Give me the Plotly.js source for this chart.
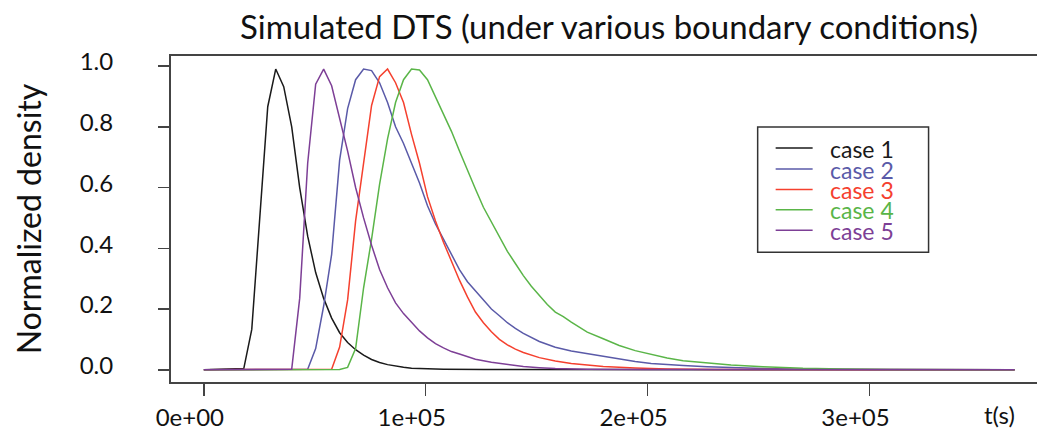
<!DOCTYPE html>
<html>
<head>
<meta charset="utf-8">
<script src="https://cdn.plot.ly/plotly-3.0.1.min.js"></script>
<style>
html, body { margin: 0; padding: 0; background: #fff; overflow: hidden; }
#chart { width: 1060px; height: 440px; }
</style>
</head>
<body>
<div id="chart"></div>
<script>
// ---------------- data (time in seconds, normalized density) ----------------
const caseNames = ["case 1", "case 2", "case 3", "case 4", "case 5"];
const caseColors = ["#1a1a1a", "#5a5aa8", "#f5402e", "#5ab548", "#7d3f96"];

const t1 = [0, 18000, 21600, 25200, 28800, 32400, 36000, 39600, 43200, 46800, 50400, 54000, 57600, 61200, 64800, 68400, 72000, 75600, 79200, 82800, 86400, 90000, 93600, 100800, 108000, 126000, 162000, 190000, 365400];
const y1 = [0, 0.004, 0.133, 0.50, 0.866, 0.99, 0.932, 0.80, 0.60, 0.44, 0.32, 0.235, 0.17, 0.122, 0.09, 0.066, 0.048, 0.034, 0.024, 0.017, 0.012, 0.008, 0.005, 0.003, 0.002, 0.001, 0.001, 0, 0];

const t2 = [0, 46800, 50400, 54000, 57600, 61200, 64800, 68400, 72000, 75600, 79200, 82800, 86400, 90000, 93600, 97200, 100800, 104400, 108000, 111600, 115200, 118800, 122400, 126000, 129600, 133200, 136800, 140400, 144000, 151200, 158400, 165600, 172800, 180000, 187200, 194400, 201600, 208800, 216000, 226800, 237600, 252000, 270000, 306000, 365400];
const y2 = [0, 0.002, 0.07, 0.21, 0.38, 0.69, 0.86, 0.955, 0.99, 0.985, 0.945, 0.88, 0.80, 0.745, 0.68, 0.615, 0.54, 0.48, 0.43, 0.38, 0.33, 0.29, 0.26, 0.23, 0.20, 0.178, 0.155, 0.136, 0.12, 0.093, 0.074, 0.062, 0.053, 0.043, 0.034, 0.027, 0.021, 0.017, 0.014, 0.010, 0.007, 0.004, 0.002, 0.001, 0];

const t3 = [0, 57600, 61200, 64800, 68400, 72000, 75600, 79200, 82800, 86400, 90000, 93600, 97200, 100800, 104400, 108000, 111600, 115200, 118800, 122400, 126000, 129600, 133200, 136800, 140400, 144000, 151200, 158400, 165600, 172800, 180000, 194400, 208800, 230400, 270000, 365400];
const y3 = [0, 0.002, 0.075, 0.23, 0.49, 0.68, 0.87, 0.965, 0.99, 0.945, 0.88, 0.775, 0.68, 0.57, 0.49, 0.42, 0.355, 0.295, 0.24, 0.19, 0.155, 0.125, 0.10, 0.082, 0.068, 0.057, 0.04, 0.029, 0.021, 0.015, 0.011, 0.006, 0.003, 0.001, 0, 0];

const t4 = [0, 61200, 64800, 68400, 72000, 75600, 79200, 82800, 86400, 90000, 93600, 97200, 100800, 104400, 108000, 111600, 115200, 118800, 122400, 126000, 129600, 133200, 136800, 140400, 144000, 147600, 151200, 154800, 158400, 162000, 165600, 169200, 172800, 180000, 187200, 194400, 201600, 208800, 216000, 226800, 237600, 252000, 270000, 288000, 309600, 365400];
const y4 = [0, 0.001, 0.008, 0.07, 0.27, 0.43, 0.61, 0.76, 0.88, 0.955, 0.99, 0.987, 0.955, 0.90, 0.84, 0.785, 0.72, 0.655, 0.595, 0.535, 0.485, 0.435, 0.39, 0.35, 0.31, 0.275, 0.245, 0.215, 0.19, 0.175, 0.157, 0.14, 0.124, 0.102, 0.08, 0.063, 0.05, 0.039, 0.03, 0.022, 0.016, 0.01, 0.005, 0.003, 0.001, 0];

const t5 = [0, 39600, 43200, 46800, 50400, 54000, 57600, 61200, 64800, 68400, 72000, 75600, 79200, 82800, 86400, 90000, 93600, 97200, 100800, 104400, 108000, 111600, 115200, 122400, 129600, 136800, 144000, 151200, 158400, 172800, 198000, 365400];
const y5 = [0, 0.002, 0.235, 0.68, 0.94, 0.99, 0.935, 0.83, 0.72, 0.60, 0.50, 0.41, 0.33, 0.27, 0.22, 0.185, 0.155, 0.128, 0.105, 0.086, 0.072, 0.06, 0.052, 0.035, 0.025, 0.017, 0.011, 0.007, 0.004, 0.002, 0.001, 0];

const xTickVals = [0, 100000, 200000, 300000];
const xTickText = ["0e+00", "1e+05", "2e+05", "3e+05"];
const yTickVals = [0, 0.2, 0.4, 0.6, 0.8, 1.0];

const chartTitle = "Simulated DTS (under various boundary conditions)";
const yTitle = "Normalized density";
const xUnit = "t(s)";

// ---------------- layout geometry (pixels) ----------------
const W = 1060, H = 440;
const L = 171, T = 56, PW = 876.5, PH = 325.7;
const px = x => (x - L) / PW;
const py = y => (T + PH - y) / PH;

const FONT = "Lato, 'Open Sans', sans-serif";

const xs = [t1, t2, t3, t4, t5];
const ys = [y1, y2, y3, y4, y5];
const traces = caseNames.map((n, i) => ({
  type: "scatter", mode: "lines", name: n,
  x: xs[i], y: ys[i],
  line: { color: caseColors[i], width: 1.5 },
  showlegend: false, hoverinfo: "skip"
}));

// manual legend (R-style box)
const legRows = [148, 169, 189.5, 209.5, 230];
const shapes = [{
  type: "rect", xref: "paper", yref: "paper",
  x0: px(758), x1: px(929), y0: py(252), y1: py(127),
  line: { color: "#333", width: 1.5 }, fillcolor: "rgba(0,0,0,0)"
}];
const annotations = [];
caseNames.forEach((n, i) => {
  shapes.push({
    type: "line", xref: "paper", yref: "paper",
    x0: px(776), x1: px(813), y0: py(legRows[i]), y1: py(legRows[i]),
    line: { color: caseColors[i], width: 1.5 }
  });
  annotations.push({
    xref: "paper", yref: "paper", x: px(829), y: py(legRows[i]),
    xanchor: "left", yanchor: "middle", showarrow: false, text: n,
    height: 19, valign: "middle", borderpad: 0,
    font: { family: FONT, size: 23, color: caseColors[i] }
  });
});
annotations.push({
  xref: "paper", yref: "paper", x: px(1000), y: py(414),
  xanchor: "center", yanchor: "middle", showarrow: false, text: xUnit,
  font: { family: FONT, size: 24, color: "#111" }
});

const layout = {
  width: W, height: H,
  margin: { l: L, r: W - L - PW, t: T, b: H - T - PH, pad: 0 },
  paper_bgcolor: "#ffffff", plot_bgcolor: "#ffffff",
  font: { family: FONT, color: "#111" },
  title: {
    text: chartTitle, x: 0.5, xref: "paper", xanchor: "center",
    y: 1 - 27 / H, yref: "container", yanchor: "middle",
    font: { family: FONT, size: 33, color: "#111" }
  },
  xaxis: {
    range: [-14800, 380000], showgrid: false, zeroline: false,
    showline: true, mirror: true, linecolor: "#444", linewidth: 2,
    ticks: "outside", ticklen: 12, tickwidth: 1.5, tickcolor: "#444",
    tickvals: xTickVals, ticktext: xTickText,
    ticklabelshift: -14, ticklabelstandoff: 1,
    tickfont: { family: FONT, size: 24, color: "#111" }
  },
  yaxis: {
    range: [-0.0402, 1.033], showgrid: false, zeroline: false,
    showline: true, mirror: true, linecolor: "#444", linewidth: 2,
    ticks: "outside", ticklen: 11, tickwidth: 1.5, tickcolor: "#444",
    tickvals: yTickVals, tickformat: ".1f",
    ticklabelshift: -4, ticklabelstandoff: 40,
    tickfont: { family: FONT, size: 24, color: "#111" },
    title: { text: yTitle, standoff: 28, font: { family: FONT, size: 32, color: "#111" } }
  },
  shapes: shapes,
  annotations: annotations
};

Plotly.newPlot("chart", traces, layout, { displayModeBar: false, staticPlot: true });
</script>
</body>
</html>
